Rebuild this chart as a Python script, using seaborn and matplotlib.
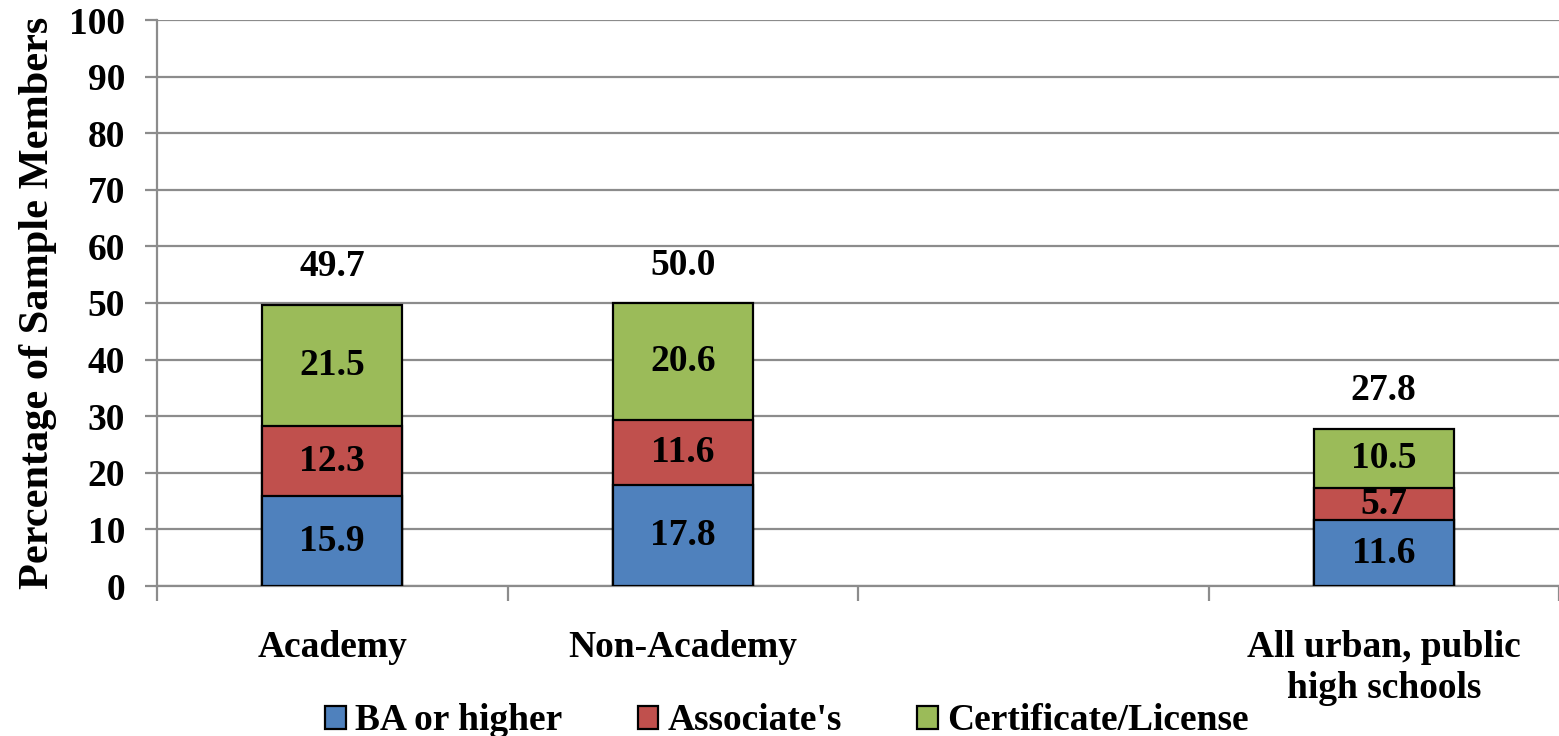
import matplotlib
matplotlib.use("Agg")
import matplotlib.pyplot as plt
from matplotlib.patches import Patch
from matplotlib.ticker import FixedLocator
import seaborn as sns
import pandas as pd
import numpy as np

# Data
groups = ["Academy", "Non-Academy", "All urban, public\nhigh schools"]
slots = ["Academy", "Non-Academy", " ", "All urban, public\nhigh schools"]
ba_or_higher = [15.9, 17.8, 11.6]
associates = [12.3, 11.6, 5.7]
certificate = [21.5, 20.6, 10.5]
totals = [49.7, 50.0, 27.8]
series_names = ["BA or higher", "Associate's", "Certificate/License"]
colors = ["#4F81BD", "#C0504D", "#9BBB59"]

sns.set_theme(style="white")
plt.rcParams["font.family"] = ["Liberation Serif", "DejaVu Serif"]
plt.rcParams["font.weight"] = "bold"
plt.rcParams["text.color"] = "black"
plt.rcParams["axes.labelcolor"] = "black"

FS = 27
GRID = "#8C8C8C"

df = pd.DataFrame({
    "group": groups,
    "ba": ba_or_higher,
    "assoc": associates,
    "cert": certificate,
})
df["cum1"] = df["ba"]
df["cum2"] = df["ba"] + df["assoc"]
df["cum3"] = df["cum2"] + df["cert"]

fig = plt.figure(figsize=(15.59, 7.36), dpi=100)
ax = fig.add_axes([157 / 1559, 1 - 586 / 736, 1 - 157 / 1559, (586 - 20) / 736])

# Stacked bars drawn back to front as cumulative heights
for col, color in zip(["cum3", "cum2", "cum1"], colors[::-1]):
    sns.barplot(data=df, x="group", y=col, order=slots, color=color,
                width=0.4, edgecolor="black", linewidth=1.6, saturation=1,
                ax=ax, zorder=3, errorbar=None)

ax.set_xlim(-0.5, 3.5)
ax.set_ylim(0, 100)
ax.set_yticks(np.arange(0, 101, 10))
ax.yaxis.grid(True, color=GRID, linewidth=1.6, zorder=0)
ax.xaxis.grid(False)
for s in ["top", "right"]:
    ax.spines[s].set_visible(False)
for s in ["left", "bottom"]:
    ax.spines[s].set_color(GRID)
    ax.spines[s].set_linewidth(1.6)
ax.set_axisbelow(True)

ax.tick_params(axis="y", which="major", length=9, width=1.6, color=GRID,
               labelcolor="black", labelsize=FS, pad=14, left=True)
for lbl in ax.get_yticklabels():
    lbl.set_fontweight("bold")

ax.set_xlabel("")
ax.set_ylabel("Percentage of Sample Members", fontsize=30.5,
              fontweight="bold", labelpad=9)

# Category labels at bar centers, tick marks at slot boundaries
ax.set_xticks(range(len(slots)))
ax.set_xticklabels(slots, fontsize=FS, fontweight="bold", linespacing=1.2,
                   va="top")
ax.tick_params(axis="x", which="major", length=0, pad=32, labelcolor="black")
ax.xaxis.set_minor_locator(FixedLocator(np.arange(-0.5, 3.6, 1.0)))
ax.tick_params(axis="x", which="minor", length=11, width=1.6,
               color=GRID, bottom=True)

# Value labels
xpos = [slots.index(g) for g in groups]
for i, x in enumerate(xpos):
    b = ba_or_higher[i]
    a = associates[i]
    c = certificate[i]
    for y, v in [(b / 2, b), (b + a / 2, a), (b + a + c / 2, c)]:
        ax.text(x, y, f"{v:.1f}", ha="center", va="center", fontsize=FS,
                fontweight="bold", zorder=5)
    ax.text(x, totals[i] + 6.7, f"{totals[i]:.1f}", ha="center",
            va="center", fontsize=FS, fontweight="bold", zorder=5)

handles = [Patch(facecolor=c, edgecolor="black", linewidth=1.6) for c in colors]
fig.legend(handles, series_names, loc="center", ncol=3,
           bbox_to_anchor=(787 / 1559, 15 / 736), frameon=False,
           prop={"size": FS, "weight": "bold"}, handlelength=0.55,
           handleheight=0.55, handletextpad=0.25, columnspacing=2.0,
           borderpad=0)

fig.savefig("out.png", dpi=100)
